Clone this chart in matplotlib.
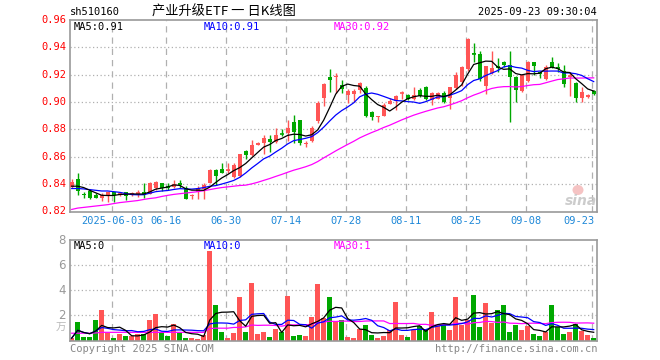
import numpy as np
import pandas as pd
import matplotlib
matplotlib.use('Agg')
import matplotlib.pyplot as plt
from matplotlib.patches import Ellipse

plt.rcParams['font.family'] = ['DejaVu Sans Mono', 'Noto Sans CJK SC']

# ---------------- data ----------------
opens = [
    .838, .8434, .8331, .835, .8317, .8297, .832, .834, .832, .834,
    .8322, .833, .8341, .8331, .837, .8405, .839, .8382, .8407, .8373,
    .831, .834, .8361, .841, .8507, .851, .8495, .8453, .846, .8643,
    .8614, .8688, .870, .873, .871, .8768, .8773, .8856, .8866, .8695,
    .8712, .8858, .903, .9183, .918, .9127, .9049, .9056, .909, .9103,
    .8924, .889, .89, .8988, .9005, .9063, .9054, .9022, .9088, .9107,
    .9017, .9022, .9066, .9027, .91, .9144, .9241, .9356, .9351, .9119,
    .9212, .9261, .929, .9273, .918, .9083, .9156, .9295, .922, .9168,
    .9295, .926, .9229, .9185, .9139, .9029, .9034, .9083]
closes = [
    .8414, .8349, .832, .830, .830, .8324, .834, .8323, .8335, .831,
    .8335, .8335, .8324, .841, .8414, .8373, .8375, .840, .8392, .8293,
    .832, .8375, .8395, .8507, .8463, .8485, .850, .8539, .8617, .8614,
    .8688, .870, .8736, .871, .876, .8763, .8814, .8778, .870, .8703,
    .881, .8993, .9134, .9163, .9188, .9095, .9078, .9081, .914, .89,
    .889, .8898, .898, .9005, .9046, .9068, .9024, .9051, .9046, .9022,
    .9066, .9066, .9002, .9107, .92, .9254, .946, .9354, .9168, .9261,
    .9246, .9249, .9273, .9185, .909, .9197, .9295, .9266, .9205, .9255,
    .9255, .9245, .9135, .919, .9029, .9075, .9051, .9058]
highs = [
    .8434, .8478, .834, .8366, .8336, .8338, .8345, .8345, .8345, .8345,
    .8345, .8355, .841, .8415, .8422, .841, .8405, .8427, .8429, .8383,
    .833, .8385, .8407, .8512, .8512, .8556, .8558, .8556, .8624, .8646,
    .8724, .8707, .8761, .8758, .8807, .8805, .887, .8907, .887, .8712,
    .8822, .9005, .9139, .9244, .9212, .9163, .9095, .9095, .9148, .9115,
    .8937, .8898, .8995, .9032, .9049, .9078, .9056, .911, .9105, .9119,
    .907, .9076, .9083, .9107, .9217, .9261, .9465, .9432, .9371, .9266,
    .9376, .932, .9297, .9371, .9193, .9205, .9302, .9295, .9225, .9273,
    .9327, .9283, .9273, .9217, .9144, .9107, .906, .909]
lows = [
    .837, .8324, .830, .8292, .8297, .8275, .827, .8268, .8315, .8285,
    .831, .8305, .830, .8325, .8357, .8349, .8355, .8375, .8375, .829,
    .8295, .8295, .8295, .8405, .8397, .8483, .848, .8446, .8453, .8585,
    .8607, .8683, .862, .8634, .870, .8751, .8712, .870, .8688, .8675,
    .8705, .885, .897, .907, .9066, .9066, .8995, .900, .9063, .8893,
    .8868, .8856, .89, .8983, .8941, .902, .9015, .9017, .9034, .9017,
    .8978, .9022, .8995, .8949, .9095, .9119, .9229, .929, .9156, .9058,
    .9205, .9217, .9253, .8856, .8997, .9075, .915, .9198, .9175, .9162,
    .925, .922, .9112, .9046, .8997, .8997, .9029, .905]
volumes = [  # 万手
    .19, 1.44, .29, .24, 1.6, 2.45, .56, .16, .53, .32,
    .32, .5, .55, 1.65, 2.1, .7, .35, 1.35, .6, .2,
    .2, .15, .45, 7.1, 2.85, .7, .2, .6, 3.5, .7,
    4.6, .55, .7, .3, .95, .7, 3.55, .37, .45, .37,
    1.9, 4.5, 1.8, 3.5, 1.5, 1.65, .3, .2, .9, 1.25,
    .45, .2, .37, .85, 3.1, .45, .3, .85, 1.17, .85,
    2.3, 1.17, 1.25, .85, 3.5, 1.25, 1.65, 3.65, 1.04, 2.95,
    1.4, 2.45, 2.85, .64, 1.25, .8, 1.12, .53, .32, .64,
    2.85, 1.07, .53, .64, 1.3, .72, .45, .16]
# moving-average values at the start of the window (need data before it)
ma5_head = [.8385, .8385, .8375, .8355]
ma10_head = [.8368, .8368, .8365, .836, .8355, .835, .835, .8345, .834]
ma30_head = [.8215, .8225, .823, .8235, .824, .8245, .825, .8258, .8265, .827,
             .8275, .828, .8288, .8295, .830, .831, .8318, .8325, .833, .8335,
             .834, .8345, .8352, .836, .8368, .8375, .838, .8385, .839]
vol_ma30_head = [.58, .58, .58, .58, .6, .65, .65, .65, .65, .65,
                 .65, .65, .65, .65, .65, .65, .65, .65, .65, .65,
                 .65, .65, .65, .95, .98, .98, .98, 1.04, 1.04]
tick_pos = [7, 16, 26, 36, 46, 56, 66, 76, 87]
tick_labels = ['2025-06-03', '06-16', '06-30', '07-14', '07-28',
               '08-11', '08-25', '09-08', '09-23']
price_ticks = [0.82, 0.84, 0.86, 0.88, 0.90, 0.92, 0.94, 0.96]
vol_ticks = [2, 4, 6, 8]

# ---------------- computations ----------------
df = pd.DataFrame({'o': opens, 'h': highs, 'l': lows, 'c': closes, 'v': volumes})
n = len(df)
x = np.arange(n)

def ma(series, k, head):
    r = series.rolling(k).mean().to_numpy()
    r[:len(head)] = head
    return r

ma5 = ma(df['c'], 5, ma5_head)
ma10 = ma(df['c'], 10, ma10_head)
ma30 = ma(df['c'], 30, ma30_head)
vma5 = df['v'].rolling(5, min_periods=1).mean().to_numpy()
vma10 = df['v'].rolling(10, min_periods=1).mean().to_numpy()
vma30 = ma(df['v'], 30, vol_ma30_head)

RED = '#ff5555'
GREEN = '#00a800'
up = df['c'] >= df['o']
colors = np.where(up, RED, GREEN)

# ---------------- figure ----------------
W, H = 660, 360
fig = plt.figure(figsize=(6.6, 3.6), dpi=100)
def fx(px): return px / W
def fy(py): return 1 - py / H

ax = fig.add_axes([fx(70), fy(211.5), fx(597) - fx(70), fy(20) - fy(211.5)])
axv = fig.add_axes([fx(70), fy(340.5), fx(597) - fx(70), fy(240) - fy(340.5)])

xlo, xhi = (70 - 71.7) / 6, (597 - 71.7) / 6
FRAME = '#9a9a9a'
GRID = '#b0b0b0'

for a in (ax, axv):
    a.set_xlim(xlo, xhi)
    a.set_xticks([])
    a.set_yticks([])
    for s in a.spines.values():
        s.set_color(FRAME)
        s.set_linewidth(1.2)
    for p in tick_pos:
        a.axvline(p - 0.22, color=GRID, lw=0.9, ls=(0, (5, 4)), zorder=0)

ax.set_ylim(0.82, 0.96)
for t in price_ticks[1:-1]:
    ax.axhline(t, color=GRID, lw=0.9, ls=(0, (1, 2)), zorder=0)
axv.set_ylim(0, 8)
for t in vol_ticks[:-1]:
    axv.axhline(t, color=GRID, lw=0.9, ls=(0, (1, 2)), zorder=0)

# candles
bw = 0.72
ax.vlines(x, df['l'], df['h'], colors=colors, lw=1.0, zorder=2)
body_bot = np.minimum(df['o'], df['c'])
body_h = np.abs(df['c'] - df['o'])
ax.bar(x, body_h, bottom=body_bot, width=bw, color=colors, lw=0, zorder=3)
flat = body_h < 0.0006
ax.hlines(df['c'][flat], x[flat] - bw / 2, x[flat] + bw / 2, colors=colors[flat], lw=1.2, zorder=3)

ax.plot(x, ma30, color='#ff00ff', lw=0.9, zorder=4)
ax.plot(x, ma10, color='#0000ff', lw=0.9, zorder=4)
ax.plot(x, ma5, color='black', lw=0.9, zorder=4)

# volumes
axv.bar(x, df['v'], width=0.8, color=colors, lw=0, zorder=2)
axv.plot(x, vma30, color='#ff00ff', lw=0.9, zorder=4)
axv.plot(x, vma10, color='#0000ff', lw=0.9, zorder=4)
axv.plot(x, vma5, color='black', lw=0.9, zorder=4)

# y labels
for t in price_ticks:
    fig.text(fx(66), fy(20 + (0.96 - t) / 0.14 * 191.5), f'{t:.2f}', color='red',
             ha='right', va='center', fontsize=7.5)
for t in vol_ticks:
    fig.text(fx(66), fy(340.5 - t / 8 * 100.5), f'{t}', color='#999999',
             ha='right', va='center', fontsize=8.5, family='DejaVu Sans')
fig.text(fx(66), fy(328), '万', color='#b8b8b8', ha='right', va='center', fontsize=7.5,
         family='Noto Sans CJK SC')

# date labels
for p, lab in zip(tick_pos, tick_labels):
    px = 71.7 + 6 * p - 1.3
    if p == tick_pos[-1]:
        fig.text(fx(595), fy(221), lab, color='#1e88d8', ha='right', va='center', fontsize=7.5)
    else:
        fig.text(fx(px), fy(221), lab, color='#1e88d8', ha='center', va='center', fontsize=7.5)

# titles
fig.text(fx(70), fy(12), 'sh510160', color='black', ha='left', va='center', fontsize=7.5)
fig.text(fx(224), fy(12), '产业升级ETF 一 日K线图', color='black', ha='center', va='center',
         fontsize=9.5, family=['Noto Sans CJK SC', 'DejaVu Sans Mono'])
fig.text(fx(597), fy(12), '2025-09-23 09:30:04', color='black', ha='right', va='center', fontsize=7.5)

# legends (volume values shown truncated to integers, as in the source)
fig.text(fx(74), fy(27), f'MA5:{ma5[-1]:.2f}', color='black', ha='left', va='center', fontsize=7.5)
fig.text(fx(204), fy(27), f'MA10:{ma10[-1]:.2f}', color='#0000ff', ha='left', va='center', fontsize=7.5)
fig.text(fx(334), fy(27), f'MA30:{ma30[-1]:.2f}', color='#ff00ff', ha='left', va='center', fontsize=7.5)
fig.text(fx(74), fy(246), f'MA5:{int(vma5[-1])}', color='black', ha='left', va='center', fontsize=7.5)
fig.text(fx(204), fy(246), f'MA10:{int(vma10[-1])}', color='#0000ff', ha='left', va='center', fontsize=7.5)
fig.text(fx(334), fy(246), f'MA30:{int(vma30[-1])}', color='#ff00ff', ha='left', va='center', fontsize=7.5)

# footer
fig.text(fx(70), fy(349), 'Copyright 2025 SINA.COM', color='#888888', ha='left', va='center', fontsize=7.5)
fig.text(fx(597), fy(349), 'http://finance.sina.com.cn', color='#888888', ha='right', va='center', fontsize=7.5)

# watermark
fig.patches.append(Ellipse((fx(578), fy(190)), fx(11), 10 / H, transform=fig.transFigure,
                           facecolor='#f3b5b5', edgecolor='none', alpha=0.8))
fig.text(fx(581), fy(201), 'sina', color='#c4c4c4', ha='center', va='center', fontsize=10,
         style='italic', fontweight='bold', family='DejaVu Sans', alpha=0.85)

fig.savefig('out.png', dpi=100)
